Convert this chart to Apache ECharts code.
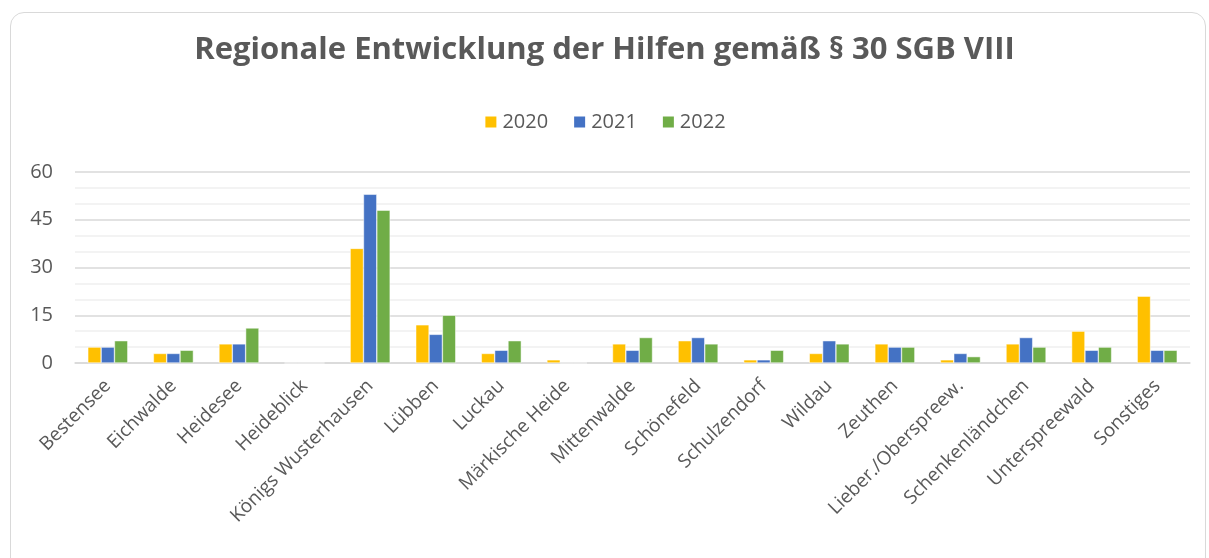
<!DOCTYPE html>
<html>
<head>
<meta charset="utf-8" />
<title>Hilfen § 30 SGB VIII</title>
<script src="https://cdn.jsdelivr.net/npm/echarts@6/dist/echarts.min.js"></script>
<style>
  html, body { margin: 0; padding: 0; background: #fff; }
  #card {
    position: absolute; left: 10px; top: 12px; width: 1194px; height: 560px;
    border: 1px solid #d9d9d9; border-radius: 14px;
  }
  #main { position: absolute; left: 0; top: 0; width: 1209px; height: 558px; }
</style>
</head>
<body>
<div id="card"></div>
<div id="main"></div>
<script>
// Regionen (Kategorien)
var regions = ['Bestensee', 'Eichwalde', 'Heidesee', 'Heideblick', 'Königs Wusterhausen',
  'Lübben', 'Luckau', 'Märkische Heide', 'Mittenwalde', 'Schönefeld', 'Schulzendorf',
  'Wildau', 'Zeuthen', 'Lieber./Oberspreew.', 'Schenkenländchen', 'Unterspreewald', 'Sonstiges'];

// Werte je Jahr
var y2020 = [5, 3, 6, 0, 36, 12, 3, 1, 6, 7, 1, 3, 6, 1, 6, 10, 21];
var y2021 = [5, 3, 6, 0, 53, 9, 4, 0, 4, 8, 1, 7, 5, 3, 8, 4, 4];
var y2022 = [7, 4, 11, 0, 48, 15, 7, 0, 8, 6, 4, 6, 5, 2, 5, 5, 4];

var years = ['2020', '2021', '2022'];
var colors = ['#ffc000', '#4472c4', '#70ad47'];

var font = '"Open Sans", "Liberation Sans", sans-serif';
var txt = '#595959';

function bar(name, data, color) {
  return {
    name: name,
    type: 'bar',
    data: data,
    barGap: '0%',
    barCategoryGap: '39%',
    itemStyle: { color: color, borderColor: '#fff', borderWidth: 0.5 }
  };
}

var myChart = echarts.init(document.getElementById('main'));
myChart.setOption({
  animation: false,
  color: colors,
  title: {
    text: 'Regionale Entwicklung der Hilfen gemäß § 30 SGB VIII',
    left: 'center',
    top: 30,
    textStyle: { fontFamily: font, fontSize: 31, fontWeight: 'bold', color: txt }
  },
  legend: {
    top: 107,
    left: 'center',
    itemWidth: 13,
    itemHeight: 13,
    itemGap: 24,
    icon: 'rect',
    textStyle: { fontFamily: font, fontSize: 20, color: txt }
  },
  grid: { left: 75, right: 19, top: 172, bottom: 195 },
  xAxis: {
    type: 'category',
    data: regions,
    axisTick: { show: false },
    axisLine: { lineStyle: { color: '#d9d9d9', width: 1.5 } },
    axisLabel: {
      interval: 0,
      rotate: 45,
      margin: 20,
      fontFamily: font,
      fontSize: 19,
      color: txt
    }
  },
  yAxis: {
    type: 'value',
    min: 0,
    max: 60,
    interval: 15,
    axisLabel: { fontFamily: font, fontSize: 20, color: txt, margin: 22 },
    splitLine: { lineStyle: { color: '#d9d9d9', width: 1.5 } },
    minorTick: { show: false, splitNumber: 3 },
    minorSplitLine: { show: true, lineStyle: { color: '#f0f0f0', width: 1.5 } }
  },
  series: [
    bar(years[0], y2020, colors[0]),
    bar(years[1], y2021, colors[1]),
    bar(years[2], y2022, colors[2])
  ]
});
</script>
</body>
</html>
